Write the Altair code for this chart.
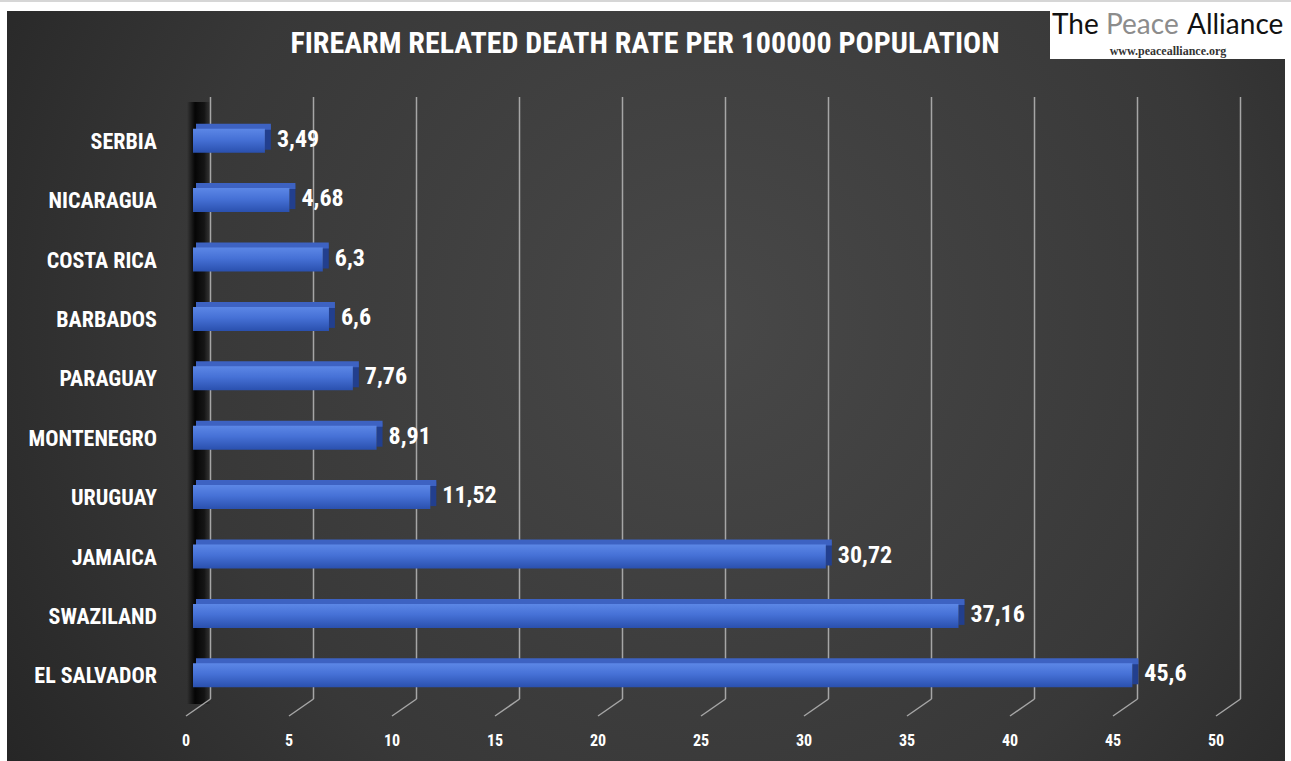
import altair as alt
import pandas as pd

countries = ["SERBIA", "NICARAGUA", "COSTA RICA", "BARBADOS", "PARAGUAY",
             "MONTENEGRO", "URUGUAY", "JAMAICA", "SWAZILAND", "EL SALVADOR"]
values = [3.49, 4.68, 6.3, 6.6, 7.76, 8.91, 11.52, 30.72, 37.16, 45.6]
value_labels = ["3,49", "4,68", "6,3", "6,6", "7,76", "8,91", "11,52", "30,72", "37,16", "45,6"]
ticks = [0, 5, 10, 15, 20, 25, 30, 35, 40, 45, 50]
tick_labels = ["0", "5", "10", "15", "20", "25", "30", "35", "40", "45", "50"]
title_text = "FIREARM RELATED DEATH RATE PER 100000 POPULATION"

df = pd.DataFrame({"country": countries, "value": values, "label": value_labels,
                   "row": list(range(len(countries)))})
tdf = pd.DataFrame({"tick": ticks, "tlabel": tick_labels})
one = pd.DataFrame({"k": [0]})

FONT = "Roboto Condensed, Oswald, Roboto, Liberation Sans Narrow, sans-serif"
xs = alt.Scale(domain=[0, 50], range=[193, 1223], nice=False, zero=False)
ys = alt.Scale(domain=[-0.5, 9.5], range=[106, 710], nice=False, zero=False)

# background panel
bg = alt.Chart(one).mark_rect(
    fill=alt.RadialGradient(
        gradient="radial",
        stops=[alt.GradientStop(offset=0, color="#484848"),
               alt.GradientStop(offset=0.55, color="#383838"),
               alt.GradientStop(offset=1, color="#1e1e1e")],
        x1=0.55, y1=0.45, r1=0, x2=0.55, y2=0.45, r2=0.75)
).encode(x=alt.value(7), x2=alt.value(1285), y=alt.value(11), y2=alt.value(761))

top_line = alt.Chart(one).mark_rule(color="#c8c8c8", strokeWidth=1.5).encode(
    x=alt.value(0), x2=alt.value(1291), y=alt.value(1))

# left wall
wall = alt.Chart(one).mark_rect(
    xOffset=-6, x2Offset=17,
    fill=alt.LinearGradient(
        gradient="linear",
        stops=[alt.GradientStop(offset=0, color="rgba(0,0,0,0)"),
               alt.GradientStop(offset=0.35, color="rgba(0,0,0,0.9)"),
               alt.GradientStop(offset=0.75, color="rgba(12,12,12,0.8)"),
               alt.GradientStop(offset=1, color="rgba(40,40,40,0.4)")],
        x1=0, y1=0, x2=1, y2=0)
).encode(x=alt.X(datum=0, scale=xs, axis=None), x2=alt.X2(datum=0),
         y=alt.value(102), y2=alt.value(704))

# grid lines (back plane + diagonal to front)
grid_v = alt.Chart(tdf).mark_rule(color="#a6a6a6", strokeWidth=1.5, xOffset=17.5).encode(
    x=alt.X("tick:Q", scale=xs, axis=None), y=alt.value(97), y2=alt.value(699))
grid_d = alt.Chart(tdf).mark_rule(color="#a6a6a6", strokeWidth=1.5,
                                  xOffset=17.5, x2Offset=-7).encode(
    x=alt.X("tick:Q", scale=xs, axis=None), x2="tick:Q",
    y=alt.value(699), y2=alt.value(716))

base = alt.Chart(df).encode(y=alt.Y("row:Q", scale=ys, axis=None))

side = base.mark_bar(orient="horizontal", size=24, yOffset=-3, xOffset=6,
                     color="#223f8e").encode(
    x=alt.X("value:Q", scale=xs, axis=None), x2="value:Q")
top = base.mark_bar(orient="horizontal", size=6, yOffset=-14, xOffset=6, x2Offset=3,
                    color="#3d62c2").encode(
    x=alt.X("value:Q", scale=xs, axis=None), x2=alt.X2(datum=0))
front = base.mark_bar(
    orient="horizontal", size=24,
    fill=alt.LinearGradient(
        gradient="linear",
        stops=[alt.GradientStop(offset=0, color="#5c87e6"),
               alt.GradientStop(offset=0.45, color="#4671d6"),
               alt.GradientStop(offset=1, color="#2a50ae")],
        x1=0, y1=0, x2=0, y2=1)
).encode(x=alt.X("value:Q", scale=xs, axis=None), x2=alt.X2(datum=0))

vlabels = base.mark_text(align="left", baseline="middle", dx=12, dy=-1, font=FONT,
                         fontSize=24, fontWeight="bold", color="white").encode(
    x=alt.X("value:Q", scale=xs, axis=None), text="label:N")
clabels = base.mark_text(align="right", baseline="middle", font=FONT, dy=1,
                         fontSize=22, fontWeight="bold", color="white").encode(
    x=alt.value(157), text="country:N")
tlabels = alt.Chart(tdf).mark_text(align="center", baseline="middle", dx=-7, font=FONT,
                                   fontSize=16, fontWeight="bold", color="white").encode(
    x=alt.X("tick:Q", scale=xs, axis=None), y=alt.value(741), text="tlabel:N")

title = alt.Chart(one).mark_text(text=title_text, align="center", baseline="middle",
                                 font=FONT, fontSize=30, fontWeight="bold",
                                 color="white").encode(
    x=alt.value(645), y=alt.value(44))

# logo
logo_box = alt.Chart(one).mark_rect(color="white").encode(
    x=alt.value(1050), x2=alt.value(1286), y=alt.value(11), y2=alt.value(59))
logo_font = "Lato, Open Sans, sans-serif"
logo1 = alt.Chart(one).mark_text(text="The", align="left", baseline="alphabetic",
                                 font=logo_font, fontSize=28, color="#111111").encode(
    x=alt.value(1052), y=alt.value(34))
logo2 = alt.Chart(one).mark_text(text="Peace", align="left", baseline="alphabetic",
                                 font=logo_font, fontSize=28, color="#8c8c8c").encode(
    x=alt.value(1106), y=alt.value(34))
logo3 = alt.Chart(one).mark_text(text="Alliance", align="left", baseline="alphabetic",
                                 font=logo_font, fontSize=28, color="#111111").encode(
    x=alt.value(1187), y=alt.value(34))
logo4 = alt.Chart(one).mark_text(text="www.peacealliance.org", align="center",
                                 baseline="middle", font="Liberation Serif, DejaVu Serif, serif",
                                 fontSize=12, fontWeight="bold", color="#333333").encode(
    x=alt.value(1168), y=alt.value(51))

chart = alt.layer(
    bg, top_line, wall, grid_v, grid_d, side, top, front, vlabels, clabels, tlabels,
    title, logo_box, logo1, logo2, logo3, logo4
).properties(
    width=1291, height=761, autosize=alt.AutoSizeParams(type="none"), padding=0,
    background="white"
).configure_view(stroke=None)

chart.save("out.html", embed_options={"renderer": "svg", "actions": False})
